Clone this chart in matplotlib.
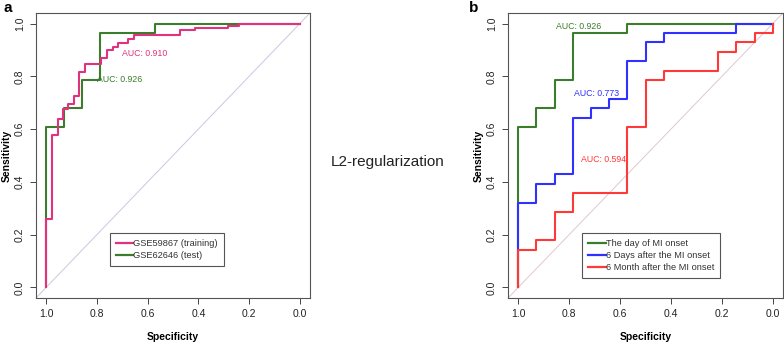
#!/bin/env python3
'''
ROC curves, L2-regularization model
'''
import matplotlib
matplotlib.use('Agg')
import matplotlib.pyplot as plt
from matplotlib.lines import Line2D

plt.rcParams['font.family'] = ['Liberation Sans', 'DejaVu Sans']

# panel a: training / test ROC points (specificity, sensitivity)
train_spec = [1.0, 1.0, 0.976, 0.954, 0.934, 0.912, 0.89, 0.869, 0.847, 0.785, 0.761,
              0.738, 0.718, 0.676, 0.653, 0.474, 0.412, 0.283, 0.239, 0.0]
train_sens = [0.0, 0.26, 0.576, 0.638, 0.676, 0.695, 0.724, 0.818, 0.846, 0.871, 0.900,
              0.913, 0.926, 0.942, 0.955, 0.975, 0.982, 0.991, 1.0, 1.0]

test_spec = [1.0, 1.0, 0.929, 0.857, 0.786, 0.571, 0.0]
test_sens = [0.0, 0.607, 0.679, 0.786, 0.964, 1.0, 1.0]

# panel b: time points after MI onset
day0_spec = test_spec
day0_sens = test_sens

day6_spec = [1.0, 1.0, 0.929, 0.857, 0.786, 0.714, 0.643, 0.571, 0.5, 0.429, 0.143, 0.0]
day6_sens = [0.0, 0.321, 0.393, 0.429, 0.643, 0.679, 0.714, 0.857, 0.929, 0.964, 1.0, 1.0]

m6_spec = [1.0, 1.0, 0.929, 0.857, 0.786, 0.571, 0.5, 0.429, 0.214, 0.143, 0.071, 0.0]
m6_sens = [0.0, 0.143, 0.179, 0.286, 0.357, 0.607, 0.786, 0.821, 0.893, 0.929, 0.964, 1.0]

ticks = [1.0, 0.8, 0.6, 0.4, 0.2, 0.0]
tick_labels = ['1.0', '0.8', '0.6', '0.4', '0.2', '0.0']

pink = '#e0327e'
green = '#3a7d2c'
blue = '#3030ff'
red = '#ff3838'

def setup_axes(ax, diag_color):
    ax.plot([1.04, -0.04], [-0.04, 1.04], color=diag_color, lw=0.7, zorder=1)
    ax.set_xlim(1.04, -0.04)
    ax.set_ylim(-0.04, 1.04)
    ax.set_xticks(ticks)
    ax.set_xticklabels(tick_labels)
    ax.set_yticks(ticks)
    ax.set_yticklabels(tick_labels, rotation=90, va='center')
    ax.tick_params(direction='out', length=4, width=0.7, colors='#444444',
                   labelsize=7.5, labelcolor='#222222', pad=4)
    for s in ax.spines.values():
        s.set_color('#555555')
        s.set_linewidth(0.8)
    ax.set_xlabel('Specificity', fontsize=7.5, fontweight='bold', labelpad=9)
    ax.set_ylabel('Sensitivity', fontsize=7.5, fontweight='bold', labelpad=2)

def make_legend(ax, labels, colors, anchor):
    handles = [Line2D([0], [0], color=c, lw=1.6) for c in colors]
    leg = ax.legend(handles, labels, loc='upper left', bbox_to_anchor=anchor,
                    bbox_transform=ax.transData, fancybox=False, framealpha=1,
                    edgecolor='#555555', fontsize=6.7, handlelength=1.9,
                    handletextpad=0.0, borderpad=0.65, labelspacing=0.3,
                    borderaxespad=0)
    leg.get_frame().set_linewidth(0.8)
    for t in leg.get_texts():
        t.set_color('#333333')

fig = plt.figure(figsize=(7.84, 3.45), dpi=100)
ax1 = fig.add_axes([0.0459, 0.1362, 0.3495, 0.8261])
ax2 = fig.add_axes([0.648, 0.1362, 0.3507, 0.8261])

# panel a
setup_axes(ax1, '#c9c9e0')
ax1.step(test_spec, test_sens, where='post', color=green, lw=1.5, zorder=3)
ax1.step(train_spec, train_sens, where='post', color=pink, lw=1.5, zorder=4)
ax1.text(0.70, 0.888, 'AUC: 0.910', color=pink, fontsize=6.3, va='center', ha='left')
ax1.text(0.80, 0.787, 'AUC: 0.926', color=green, fontsize=6.3, va='center', ha='left')
make_legend(ax1, ['GSE59867 (training)', 'GSE62646 (test)'], [pink, green], (0.75, 0.205))

# panel b
setup_axes(ax2, '#e0c8d0')
ax2.step(day0_spec, day0_sens, where='post', color=green, lw=1.5, zorder=3)
ax2.step(day6_spec, day6_sens, where='post', color=blue, lw=1.5, zorder=3)
ax2.step(m6_spec, m6_sens, where='post', color=red, lw=1.5, zorder=3)
ax2.text(0.85, 0.989, 'AUC: 0.926', color=green, fontsize=6.3, va='center', ha='left')
ax2.text(0.78, 0.736, 'AUC: 0.773', color=blue, fontsize=6.3, va='center', ha='left')
ax2.text(0.752, 0.486, 'AUC: 0.594', color=red, fontsize=6.3, va='center', ha='left')
make_legend(ax2, ['The day of MI onset', '6 Days after the MI onset', '6 Month after the MI onset'],
            [green, blue, red], (0.75, 0.205))

fig.text(388 / 784, 1 - 162 / 345, 'L2-regularization', fontsize=11, ha='center', va='center',
         color='#222222')
fig.text(4 / 784, 1 - 8 / 345, 'a', fontsize=11, fontweight='bold', va='center', ha='left')
fig.text(469 / 784, 1 - 8 / 345, 'b', fontsize=11, fontweight='bold', va='center', ha='left')

fig.savefig('out.png', dpi=100)
